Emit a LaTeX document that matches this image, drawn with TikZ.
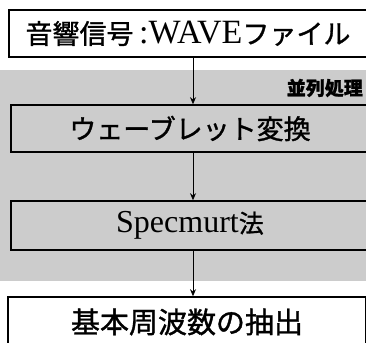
\documentclass[tikz,border=0pt]{standalone}
\usepackage{fontspec}
\setmainfont{Liberation Serif}
\newfontfamily\jpfont[FakeBold=1.2]{Noto Sans CJK JP}
\usetikzlibrary{arrows.meta}
\newcommand\jptext[2][27]{{\jpfont\fontsize{#1}{#1}\selectfont #2}}
\begin{document}
\begin{tikzpicture}[x=1pt,y=-1pt,
  box/.style={draw,line width=1.6pt,minimum width=358pt,minimum height=47pt,inner sep=0pt,
    font=\fontsize{34}{36}\selectfont},
  shaded/.style={fill=black!20},
  flow/.style={line width=0.8pt,-{Stealth[length=7pt,width=6pt]}}]
\useasboundingbox (0,0) rectangle (366,342);
\clip (0,0) rectangle (366,342);
\fill[black!20] (0,70) rectangle (366,281);
\coordinate (ax) at (193,0);
\node[box] (input) at (188,33.5) {\jptext{音響信号}\,:WAVE\jptext{ファイル}};
\node[box,shaded] (wavelet) at (190,128.5) {\jptext{ウェーブレット変換}};
\node[box,shaded,minimum height=49pt,font=\fontsize{32}{34}\selectfont] (spec) at (190,225.5) {Specmurt\jptext[25]{法}};
\node[box,minimum height=50pt] (f0) at (187,322) {\jptext[29]{基本周波数の抽出}};
\node[anchor=east,inner sep=0pt,font=\jpfont\bfseries\fontsize{19}{20}\selectfont] (par) at (363,88) {並列処理};
\draw[flow] (input.south -| ax) -- (wavelet.north -| ax);
\draw[flow] (wavelet.south -| ax) -- (spec.north -| ax);
\draw[flow] (spec.south -| ax) -- (f0.north -| ax);
\end{tikzpicture}
\end{document}
